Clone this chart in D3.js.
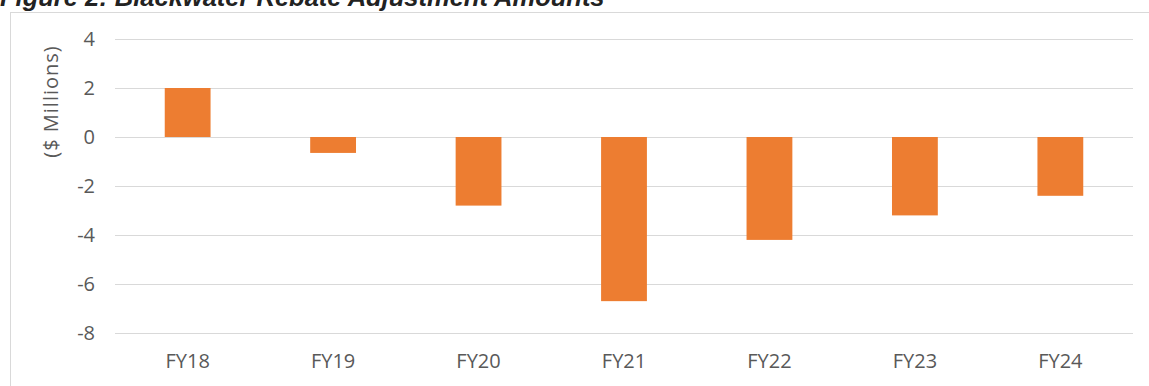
<!DOCTYPE html>
<html>
<head>
<meta charset="utf-8">
<script src="https://cdn.jsdelivr.net/npm/d3@7"></script>
<style>
  body { margin: 0; background: #fff; }
  svg { display: block; }
</style>
</head>
<body>
<svg width="1149" height="386"></svg>
<script>
var categories = ["FY18", "FY19", "FY20", "FY21", "FY22", "FY23", "FY24"];
var values = [2.0, -0.65, -2.8, -6.7, -4.2, -3.2, -2.4];
var yTicks = [4, 2, 0, -2, -4, -6, -8];

var svg = d3.select("svg");
var margin = {left: 115, right: 16, top: 39, bottom: 53};
var width = 1149, height = 386;
var labelFont = "Open Sans, Liberation Sans, sans-serif";

// title, cut off by the crop at the top
svg.append("text")
    .attr("x", 0)
    .attr("y", 6)
    .attr("font-family", "Liberation Sans, Arial, sans-serif")
    .attr("font-size", 25.5)
    .attr("font-weight", "bold")
    .attr("font-style", "italic")
    .attr("fill", "#222")
    .text("Figure 2: Blackwater Rebate Adjustment Amounts");

// chart frame
svg.append("rect")
    .attr("x", 10.5)
    .attr("y", 12.5)
    .attr("width", 1145)
    .attr("height", 400)
    .attr("fill", "#fff")
    .attr("stroke", "#d9d9d9");

var x = d3.scaleBand()
    .domain(categories)
    .range([margin.left, width - margin.right])
    .paddingInner(0.685)
    .paddingOuter(0.342);

var y = d3.scaleLinear()
    .domain([-8, 4])
    .range([height - margin.bottom, margin.top]);

var grid = svg.append("g").attr("class", "grid");
grid.selectAll("line")
    .data(yTicks)
    .enter().append("line")
    .attr("x1", margin.left)
    .attr("x2", width - margin.right)
    .attr("y1", function(d) { return Math.round(y(d)) + 0.5; })
    .attr("y2", function(d) { return Math.round(y(d)) + 0.5; })
    .attr("stroke", "#d9d9d9")
    .attr("stroke-width", 1);

var yAxis = svg.append("g")
    .attr("transform", "translate(" + (margin.left - 20) + ",0)")
    .call(d3.axisLeft(y).tickValues(yTicks).tickSize(0).tickPadding(0)
        .tickFormat(function(d) { return String(d); }));
yAxis.select(".domain").remove();
yAxis.selectAll("text")
    .attr("font-family", labelFont)
    .attr("font-size", 20)
    .attr("fill", "#595959");

svg.selectAll("rect.bar")
    .data(values)
    .enter().append("rect")
    .attr("class", "bar")
    .attr("x", function(d, i) { return x(categories[i]); })
    .attr("width", x.bandwidth())
    .attr("y", function(d) { return y(Math.max(0, d)); })
    .attr("height", function(d) { return Math.abs(y(d) - y(0)); })
    .attr("fill", "#ed7d31");

var xAxis = svg.append("g")
    .attr("transform", "translate(0," + (height - margin.bottom + 21) + ")")
    .call(d3.axisBottom(x).tickSize(0).tickPadding(0));
xAxis.select(".domain").remove();
xAxis.selectAll("text")
    .attr("font-family", labelFont)
    .attr("font-size", 20)
    .attr("fill", "#595959");

svg.append("text")
    .attr("transform", "translate(58,101.5) rotate(-90)")
    .attr("text-anchor", "middle")
    .attr("font-family", labelFont)
    .attr("font-size", 20)
    .attr("letter-spacing", 1)
    .attr("fill", "#595959")
    .text("($ Millions)");
</script>
</body>
</html>
